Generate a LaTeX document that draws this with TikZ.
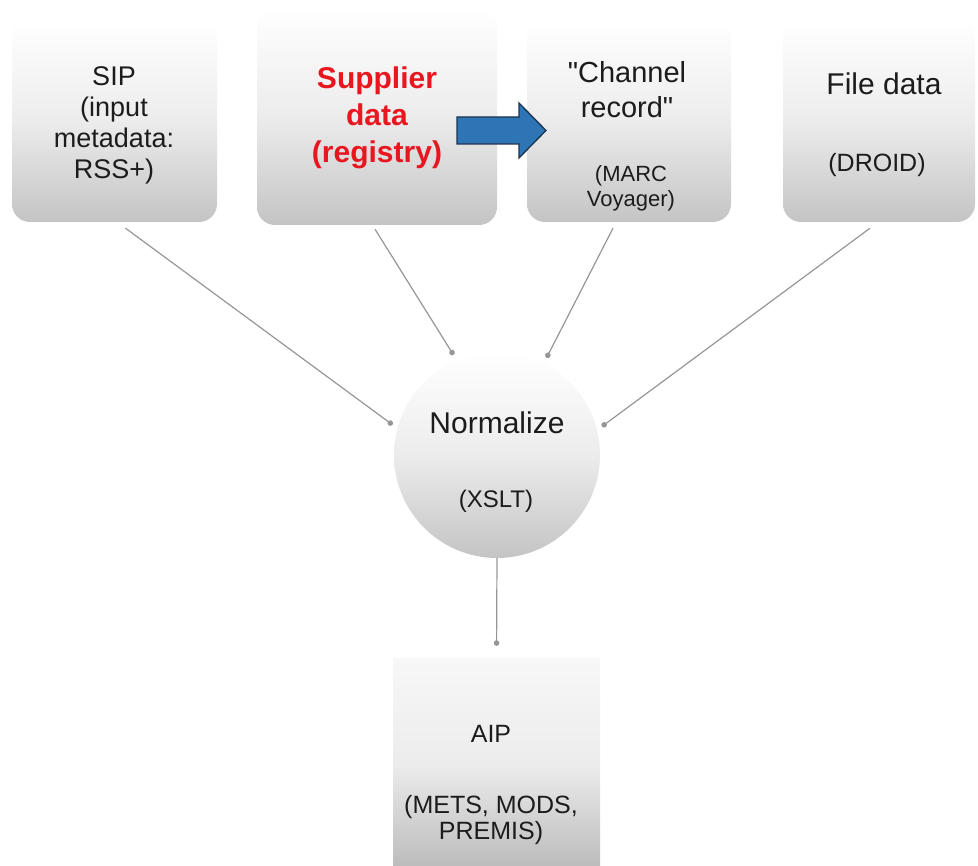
\documentclass[tikz,border=0pt]{standalone}
\usepackage{fontspec}
\setmainfont{Liberation Sans}
\usetikzlibrary{arrows.meta,calc}
\definecolor{txt}{RGB}{28,28,28}
\definecolor{boxbot}{RGB}{196,196,196}
\definecolor{boxmid}{RGB}{236,236,236}
\definecolor{redtxt}{RGB}{232,22,30}
\definecolor{arrowblue}{RGB}{46,117,182}
\definecolor{arrowedge}{RGB}{28,52,80}
\definecolor{linegray}{RGB}{150,150,150}
\begin{document}
\begin{tikzpicture}[x=1pt,y=-1pt,
  box/.style={rectangle, rounded corners=18pt, draw=none, shading=axis,
    top color=white, bottom color=boxbot, middle color=boxmid, inner sep=0pt},
  normcircle/.style={circle, draw=none, top color=white, bottom color=boxbot, middle color=boxmid, inner sep=0pt, minimum size=206pt},
  aipbox/.style={rectangle, draw=none, top color=white!97!black, bottom color=boxbot!95!black, middle color=boxmid, inner sep=0pt},
  lbl/.style={text=txt, align=center, inner sep=0pt},
  feed/.style={draw=linegray, line width=1.2pt, -{Circle[length=5.5pt]}, shorten >=6pt}
]
\useasboundingbox (0,0) rectangle (978,866);

% boxes
\node[box, minimum width=205pt, minimum height=202pt] (sip) at (114.5,121) {};
\node[box, minimum width=240pt, minimum height=217pt] (sup) at (377,116.5) {};
\node[box, minimum width=204pt, minimum height=202pt] (chan) at (629,121) {};
\node[box, minimum width=192pt, minimum height=202pt] (file) at (879,121) {};
\node[normcircle] (norm) at (497,455) {};
\node[aipbox, minimum width=207pt, minimum height=212pt] (aip) at (496.5,764) {};

% texts
\node[lbl, font=\fontsize{27}{31}\selectfont] (sipT) at (114,125) {SIP\\(input\\metadata:\\RSS+)};
\node[lbl, text=redtxt, font=\fontsize{30}{37}\selectfont\bfseries] (supT) at (377,118) {Supplier\\data\\(registry)};
\node[lbl, font=\fontsize{29}{35}\selectfont] (chanT) at (627,90) {\textquotedbl Channel\\record\textquotedbl};
\node[lbl, font=\fontsize{22}{25}\selectfont] (chanS) at (631,188) {(MARC\\Voyager)};
\node[lbl, font=\fontsize{30}{34}\selectfont] (fileT) at (884,84) {File data};
\node[lbl, font=\fontsize{25}{28}\selectfont] (fileS) at (877,165) {(DROID)};
\node[lbl, font=\fontsize{30}{34}\selectfont] (normT) at (497,423) {Normalize};
\node[lbl, font=\fontsize{24}{27}\selectfont] (normS) at (496,501) {(XSLT)};
\node[lbl, font=\fontsize{25}{28}\selectfont] (aipT) at (491,734) {AIP};
\node[lbl, font=\fontsize{25}{26}\selectfont] (aipS) at (491,820) {(METS, MODS,\\PREMIS)};

% blue block arrow from supplier to channel record
\draw[fill=arrowblue, draw=arrowedge, line width=1.3pt, line join=miter]
  (457,117) -- (519,117) -- (519,103) -- (546,130.5) -- (519,158) -- (519,144) -- (457,144) -- cycle;

% connectors
\draw[feed] ([shift={(11,6)}]sip.south) -- (norm.165);
\draw[feed] ([shift={(-2,4)}]sup.south) -- (norm.113);
\draw[feed] ([shift={(-16,6)}]chan.south) -- (norm.63);
\draw[feed] ([shift={(-9,6)}]file.south) -- (norm.14);
\draw[feed, shorten >=12pt] (norm.south) -- (aip.north);
\end{tikzpicture}
\end{document}
